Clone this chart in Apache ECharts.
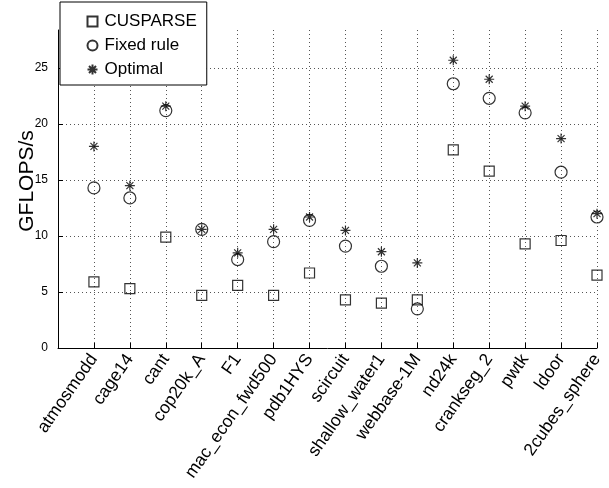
<!DOCTYPE html>
<html>
<head>
<meta charset="utf-8">
<script src="https://cdn.jsdelivr.net/npm/echarts@6/dist/echarts.min.js"></script>
<style>
  html, body { margin: 0; padding: 0; background: #fff; }
  #main { width: 609px; height: 488px; }
</style>
</head>
<body>
<div id="main"></div>
<script>
// matrix names, one per x position 1..15
const matrices = [
  "atmosmodd", "cage14", "cant", "cop20k_A", "F1", "mac_econ_fwd500",
  "pdb1HYS", "scircuit", "shallow_water1", "webbase-1M", "nd24k",
  "crankseg_2", "pwtk", "ldoor", "2cubes_sphere"
];

// GFLOPS/s
const cusparse = [5.9, 5.3, 9.9, 4.7, 5.6, 4.7, 6.7, 4.3, 4.0, 4.3, 17.7, 15.8, 9.3, 9.6, 6.5];
const fixedRule = [14.3, 13.4, 21.2, 10.6, 7.9, 9.5, 11.4, 9.1, 7.3, 3.5, 23.6, 22.3, 21.0, 15.7, 11.7];
const optimal = [18.0, 14.5, 21.6, 10.6, 8.5, 10.6, 11.7, 10.5, 8.6, 7.6, 25.7, 24.0, 21.6, 18.7, 12.0];

const yTicks = [0, 5, 10, 15, 20, 25];

const font = "Liberation Sans";
const star = "path://M5,0L5,10M0,5L10,5M1.5,1.5L8.5,8.5M1.5,8.5L8.5,1.5";

const pairs = (arr) => arr.map((v, i) => [i + 1, v]);

const markerStyle = {
  color: "transparent",
  borderColor: "#000",
  borderWidth: 1.2
};

const chart = echarts.init(document.getElementById("main"));

chart.setOption({
  animation: false,
  backgroundColor: "#fff",
  textStyle: { fontFamily: font },
  grid: { left: 58, right: 12, top: 30, bottom: 140 },
  legend: {
    orient: "vertical",
    left: 60,
    top: 2,
    z: 10,
    backgroundColor: "#fff",
    borderColor: "#000",
    borderWidth: 1,
    borderRadius: 0,
    padding: [10, 10, 6, 25],
    itemWidth: 10,
    itemHeight: 10,
    itemGap: 5,
    textStyle: { fontSize: 17, color: "#000", fontFamily: font, lineHeight: 19, padding: [0, 0, 0, 2] },
    data: ["CUSPARSE", "Fixed rule", "Optimal"]
  },
  xAxis: {
    type: "value",
    min: 0,
    max: 15,
    interval: 1,
    axisLine: { lineStyle: { color: "#000", width: 1 } },
    axisTick: { inside: true, length: 5, lineStyle: { color: "#000" } },
    axisLabel: {
      rotate: 55,
      fontSize: 17.5,
      color: "#000",
      margin: 8,
      formatter: (v) => (v >= 1 && v <= matrices.length ? matrices[v - 1] : "")
    },
    splitLine: { show: true, lineStyle: { color: "#555", type: [1, 3], width: 1 } }
  },
  yAxis: {
    type: "value",
    min: 0,
    max: 28.4,
    interval: 5,
    name: "GFLOPS/s",
    nameLocation: "middle",
    nameGap: 20,
    nameMoveOverlap: false,
    nameTextStyle: { fontSize: 21, color: "#000", fontFamily: font, padding: [0, 0, 0, 16] },
    axisLine: { show: true, lineStyle: { color: "#000", width: 1 } },
    axisTick: { show: true, inside: true, length: 5, lineStyle: { color: "#000" } },
    axisLabel: {
      fontSize: 12,
      color: "#000",
      margin: 10,
      showMaxLabel: false,
      formatter: (v) => (yTicks.includes(v) ? String(v) : "")
    },
    splitLine: {
      show: true,
      showMaxLine: false,
      lineStyle: { color: "#555", type: [1, 3], width: 1 }
    }
  },
  series: [
    {
      name: "CUSPARSE",
      type: "scatter",
      symbol: "rect",
      symbolSize: 10,
      itemStyle: markerStyle,
      data: pairs(cusparse)
    },
    {
      name: "Fixed rule",
      type: "scatter",
      symbol: "circle",
      symbolSize: 12,
      itemStyle: markerStyle,
      data: pairs(fixedRule)
    },
    {
      name: "Optimal",
      type: "scatter",
      symbol: star,
      symbolSize: 10,
      itemStyle: { color: "none", borderColor: "#000", borderWidth: 1.2 },
      data: pairs(optimal)
    }
  ]
});
</script>
</body>
</html>
